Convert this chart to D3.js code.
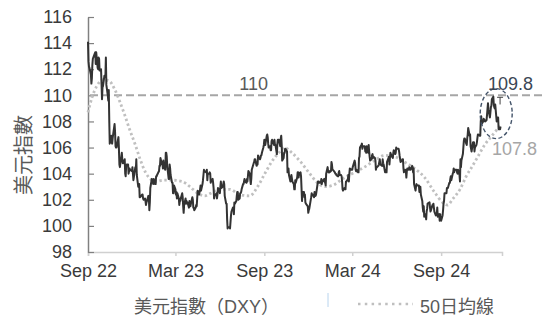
<!DOCTYPE html>
<html><head><meta charset="utf-8">
<script src="https://cdn.jsdelivr.net/npm/d3@7"></script>
<style>
body{margin:0;background:#fff}
svg{display:block}
text{font-family:"Liberation Sans",Arial,"Noto Sans CJK TC",sans-serif}
</style>
</head><body>
<svg id="c" width="542" height="316"></svg>
<script>
// ---- data ----
const weekStart = "2022-09-26"; // each inner array = Mon..Fri closes
const dxyWeeks = [
 [null,114.1,112.6,112.2,112.1],[111.6,110.9,111.3,112.3,112.8],[113.1,113.2,113.3,112.4,113.3],
 [112.1,112.0,112.9,112.8,111.9],[112.0,110.9,109.7,110.6,110.7],[111.5,111.4,111.4,112.9,110.8],
 [110.0,109.6,110.4,108.1,106.3],[106.9,106.4,106.3,106.7,107.0],[107.8,107.2,106.1,106.0,106.0],
 [106.6,106.8,105.9,104.7,104.5],[105.3,105.6,105.1,104.8,104.8],[105.1,104.0,103.8,104.6,104.7],
 [104.7,104.0,104.2,104.4,104.3],[null,104.2,104.5,104.0,103.5],[null,104.5,104.3,105.1,103.9],
 [103.0,103.2,103.2,102.2,102.2],[null,102.4,102.4,102.1,102.0],[102.1,101.9,101.6,101.8,101.9],
 [102.3,102.1,101.2,101.8,102.9],[103.6,103.4,103.4,103.2,103.6],[103.2,103.2,103.8,103.8,103.9],
 [null,104.2,104.6,104.6,105.2],[104.7,104.9,104.4,105.0,104.5],[104.3,105.6,105.6,105.3,104.6],
 [103.6,103.6,104.7,104.4,103.9],[103.3,103.3,102.5,102.5,103.1],[102.8,102.4,102.6,102.1,102.5],
 [102.1,101.6,101.9,101.9,102.1],[102.5,102.2,101.5,101.0,101.6],[102.1,101.7,101.9,101.8,101.8],
 [101.4,101.9,101.5,101.5,101.7],[102.2,102.0,101.4,101.4,101.2],[101.4,101.6,101.5,102.1,102.7],
 [102.4,102.6,102.8,103.1,102.7],[103.2,103.5,103.9,104.3,104.2],[null,104.1,104.3,103.5,104.0],
 [104.0,104.1,104.0,103.3,103.5],[103.6,103.3,102.9,102.1,102.3],[null,102.5,102.1,102.4,102.9],
 [102.7,102.5,103.0,103.4,102.9],[103.0,null,103.4,103.2,102.3],[101.7,101.7,100.5,99.8,99.9],
 [99.9,99.8,100.3,100.8,101.1],[101.4,101.4,100.9,101.8,101.7],[101.9,102.3,102.6,102.6,102.0],
 [102.1,102.5,102.5,102.6,102.8],[103.2,103.2,103.4,103.6,103.4],[103.3,103.6,103.4,103.8,104.2],
 [104.0,103.5,103.2,103.6,104.3],[null,104.8,104.9,105.1,105.1],[104.6,104.7,104.7,105.4,105.3],
 [105.1,105.2,105.4,105.4,105.6],[106.0,106.2,106.6,106.2,106.2],[106.9,107.0,106.8,106.3,106.0],
 [106.1,105.8,105.8,106.5,106.6],[106.3,106.2,106.6,106.2,106.2],[105.5,106.3,106.6,106.6,106.6],
 [106.1,106.7,106.9,106.2,105.0],[105.2,105.6,105.6,105.9,105.9],[105.7,104.1,104.4,104.4,103.9],
 [103.4,103.6,103.9,null,103.4],[103.2,102.8,102.8,103.5,103.3],[103.7,104.1,104.1,103.7,104.0],
 [104.1,103.8,102.9,101.9,102.6],[102.6,102.2,102.4,101.8,101.7],[null,101.5,101.0,101.2,101.3],
 [null,102.2,102.5,102.4,102.4],[102.2,102.6,102.4,102.3,102.4],[null,103.4,103.4,103.4,103.3],
 [103.3,103.6,103.2,103.5,103.4],[103.6,103.4,103.3,103.1,104.0],[104.5,104.2,104.1,104.2,104.1],
 [104.2,104.9,104.7,104.3,104.3],[null,104.1,104.0,104.0,103.9],[103.8,103.8,104.1,104.2,103.9],
 [103.9,103.8,103.4,102.8,102.7],[102.9,102.9,102.8,103.4,103.4],[103.6,103.9,103.4,104.0,104.4],
 [104.3,104.3,104.3,104.5,null],[105.0,104.8,104.3,104.2,104.3],[104.1,104.1,105.2,105.3,106.0],
 [106.2,106.3,105.9,106.1,106.1],[106.1,105.7,105.9,105.6,106.1],[105.6,106.2,105.7,105.3,105.0],
 [105.1,105.4,105.5,105.2,105.3],[105.2,105.0,104.3,104.5,104.5],[104.6,104.7,104.9,105.1,104.7],
 [null,104.6,105.1,104.8,104.7],[104.1,104.2,104.3,104.1,104.9],[105.2,105.3,104.7,105.2,105.6],
 [105.3,105.3,105.2,105.6,105.8],[105.5,105.6,106.0,105.9,105.9],[105.9,105.7,105.4,null,104.9],
 [105.0,105.1,105.1,104.4,104.1],[104.3,104.2,103.7,104.2,104.4],[104.3,104.5,104.4,104.3,104.3],
 [104.6,104.5,104.1,104.4,103.2],[102.7,103.0,103.2,103.1,103.1],[103.1,102.6,102.6,103.0,102.4],
 [101.9,101.4,101.1,101.5,100.7],[100.9,100.5,101.1,101.3,101.7],[null,101.8,101.4,101.1,101.2],
 [101.6,101.6,101.7,101.4,101.1],[100.8,100.9,100.9,101.4,100.7],[100.9,100.4,100.9,100.6,100.4],
 [100.8,101.2,101.7,101.9,102.5],[102.5,102.5,102.9,102.9,102.9],[103.3,103.3,103.6,103.8,103.5],
 [104.0,104.1,104.4,104.1,104.3],[104.3,104.3,104.1,104.0,104.3],[103.9,103.4,105.1,104.5,105.0],
 [105.5,106.0,106.5,106.7,106.7],[106.3,106.2,106.7,107.0,107.5],[106.9,107.0,106.1,null,105.7],
 [106.4,106.4,106.4,105.7,106.0],[106.2,106.4,106.7,107.0,107.0],[106.9,106.9,108.0,108.4,107.8],
 [108.0,108.2,null,108.1,108.0],[108.1,108.5,null,109.4,108.9],[108.3,108.7,109.1,109.2,109.7],
 [109.9,109.3,109.1,109.0,109.3],[108.0,108.1,108.3,108.3,107.4],[107.4,107.6]
];
const maDates = ["2022-09-27","2022-10-05","2022-10-15","2022-10-28","2022-11-10","2022-11-22","2022-12-02",
 "2022-12-12","2022-12-22","2023-01-03","2023-01-13","2023-01-24","2023-02-03","2023-02-15","2023-03-01",
 "2023-03-20","2023-04-10","2023-04-26","2023-05-12","2023-05-27","2023-06-08","2023-06-27","2023-07-17",
 "2023-08-07","2023-08-28","2023-09-13","2023-09-28","2023-10-12","2023-10-27","2023-11-08","2023-11-23",
 "2023-12-09","2023-12-30","2024-01-15","2024-01-30","2024-02-15","2024-03-11","2024-04-01","2024-04-21",
 "2024-05-12","2024-06-02","2024-06-23","2024-07-13","2024-08-03","2024-08-24","2024-09-13","2024-09-30",
 "2024-10-10","2024-10-22","2024-11-05","2024-11-18","2024-12-01","2024-12-12","2024-12-26","2025-01-10","2025-01-28"];
const maValues = [108.7,109.8,110.7,111.2,111.1,110.4,109.5,
 108.5,107.4,106.2,105.1,104.1,103.6,103.4,103.5,
 103.5,103.4,103.0,102.5,102.3,102.5,102.8,102.8,
 102.4,102.3,103.0,104.0,104.9,105.6,106.0,105.6,
 105.0,104.0,103.3,103.0,103.1,103.7,104.1,104.5,
 105.0,105.4,105.3,104.9,104.4,103.7,102.6,101.8,
 101.6,102.1,102.8,103.8,104.6,105.3,106.2,106.9,107.7];
const yTicks = [98,100,102,104,106,108,110,112,114,116];
const xTickDates = ["2022-09-27","2023-03-27","2023-09-27","2024-03-27","2024-09-27"];
const xTickLabels = ["Sep 22","Mar 23","Sep 23","Mar 24","Sep 24"];
const xDomain = ["2022-09-27","2025-01-31"];
const refLevel = 110, refLabel = "110";
const lastClose = "109.8", lastMA = "107.8";
const focus = {date:"2025-01-19", value:108.6};
const yTitle = "美元指數";
const legendNames = ["美元指數（DXY）","50日均線"];

// ---- build ----
const parse = d3.timeParse("%Y-%m-%d");
const ws = parse(weekStart);
const dxy = [];
dxyWeeks.forEach((wk,w)=>wk.forEach((v,d)=>{ if(v!=null) dxy.push({date:d3.timeDay.offset(ws,7*w+d), v}); }));
const ma = maDates.map((d,i)=>({date:parse(d), v:maValues[i]}));

const svg = d3.select("#c");
const x = d3.scaleTime().domain(xDomain.map(parse)).range([88,502]);
const y = d3.scaleLinear().domain([98,116]).range([252,17]);

// x axis
const xa = svg.append("g").attr("transform","translate(0,252)")
  .call(d3.axisBottom(x).tickValues(xTickDates.map(parse)).tickFormat((d,i)=>xTickLabels[i]).tickSizeOuter(0).tickSize(4).tickPadding(8));
xa.select(".domain").attr("stroke","#d0d0d0").attr("stroke-width",1.5);
xa.selectAll(".tick line").attr("stroke","#d0d0d0").attr("stroke-width",1.5);
xa.selectAll("text").attr("font-size",18).attr("fill","#3a3a3a").attr("font-family","'Liberation Sans',Arial,sans-serif");

// y axis
const ya = svg.append("g").attr("transform","translate(88,0)")
  .call(d3.axisLeft(y).tickValues(yTicks).tickSizeInner(-6).tickSizeOuter(0).tickPadding(16));
ya.select(".domain").attr("stroke","#808080").attr("stroke-width",1.5);
ya.selectAll(".tick line").attr("stroke","#808080").attr("stroke-width",1.2);
ya.selectAll("text").attr("font-size",18).attr("fill","#3a3a3a").attr("font-family","'Liberation Sans',Arial,sans-serif");

// y title
svg.append("text").attr("transform","translate(31,155) rotate(-90)").attr("text-anchor","middle")
  .attr("font-size",20).attr("fill","#595959").attr("font-family","'Noto Sans CJK TC',sans-serif").text(yTitle);

// reference line
svg.append("line").attr("x1",90).attr("x2",542).attr("y1",y(refLevel)).attr("y2",y(refLevel))
  .attr("stroke","#a6a6a6").attr("stroke-width",2).attr("stroke-dasharray","8,4");
svg.append("text").attr("x",x(parse("2023-09-05"))).attr("y",y(refLevel)-5).attr("text-anchor","middle")
  .attr("font-size",18).attr("fill","#595959").text(refLabel);

// MA dotted
const lineMA = d3.line().x(d=>x(d.date)).y(d=>y(d.v)).curve(d3.curveMonotoneX);
svg.append("path").datum(ma).attr("d",lineMA).attr("fill","none").attr("stroke","#c0c0c0")
  .attr("stroke-width",2.8).attr("stroke-dasharray","2.4,2.6");

// DXY line
const line = d3.line().x(d=>x(d.date)).y(d=>y(d.v));
svg.append("path").datum(dxy).attr("d",line).attr("fill","none").attr("stroke","#333333")
  .attr("stroke-width",2).attr("stroke-linejoin","round");

// focus ellipse
svg.append("ellipse").attr("cx",x(parse(focus.date))).attr("cy",y(focus.value)).attr("rx",16).attr("ry",25)
  .attr("fill","none").attr("stroke","#44546a").attr("stroke-width",1.4).attr("stroke-dasharray","4,2.5");
const tx = x(parse("2025-01-27"));
svg.append("path").attr("d",`M${tx-3},${y(109.85)}H${tx+3}M${tx},${y(109.85)}V${y(109.3)}`).attr("stroke","#404040").attr("stroke-width",1).attr("fill","none");

svg.append("text").attr("x",488).attr("y",89.5).attr("font-size",18).attr("fill","#3b4655").text(lastClose);
svg.append("text").attr("x",492).attr("y",154.5).attr("font-size",18).attr("fill","#a6a6a6").text(lastMA);

// legend
svg.append("text").attr("x",134).attr("y",313).attr("font-size",18).attr("fill","#595959")
  .attr("font-family","'Noto Sans CJK TC',sans-serif").text(legendNames[0]);
svg.append("line").attr("x1",328).attr("x2",328).attr("y1",293).attr("y2",307).attr("stroke","#b8d4ee").attr("stroke-width",1);
svg.append("line").attr("x1",358).attr("x2",413).attr("y1",304).attr("y2",304).attr("stroke","#bfbfbf")
  .attr("stroke-width",2.5).attr("stroke-dasharray","2.5,4.3");
svg.append("text").attr("x",420).attr("y",313).attr("font-size",18).attr("fill","#595959")
  .attr("font-family","'Liberation Sans','Noto Sans CJK TC',sans-serif").text(legendNames[1]);
</script>
</body></html>
